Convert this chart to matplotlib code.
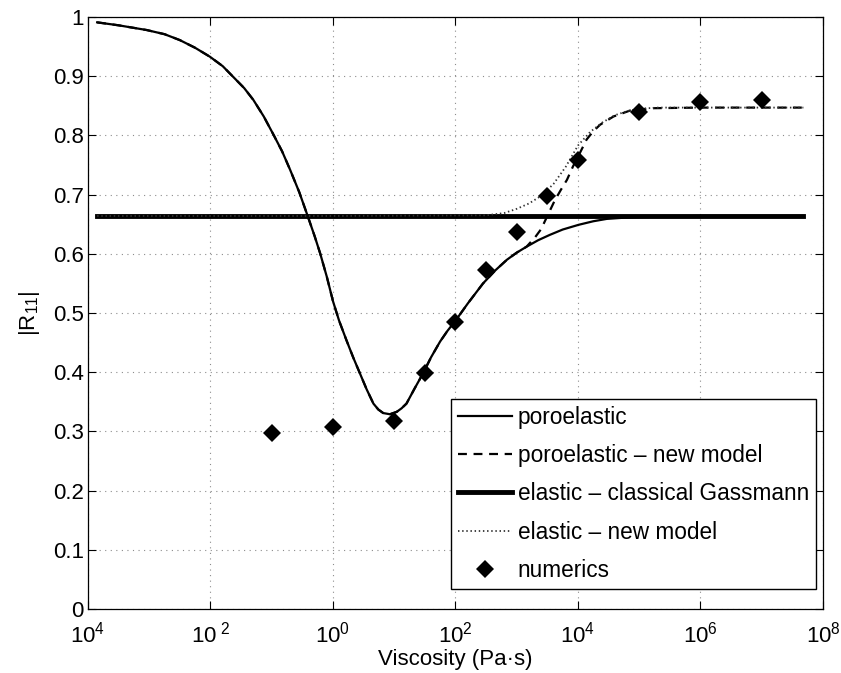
import numpy as np
import matplotlib
matplotlib.use('Agg')
import matplotlib.pyplot as plt

plt.rcParams['font.family'] = ['Liberation Sans', 'DejaVu Sans']
plt.rcParams['mathtext.fontset'] = 'custom'
plt.rcParams['mathtext.rm'] = 'Liberation Sans'
plt.rcParams['mathtext.it'] = 'Liberation Sans:italic'

# log10 of viscosity (Pa s) and |R11|
poro_exp = [-3.85, -3.5, -3.04, -2.75, -2.5, -2.25, -2.01, -1.8, -1.63, -1.45,
            -1.3, -1.13, -0.97, -0.83, -0.7, -0.55, -0.41, -0.3, -0.21, -0.1,
            0.0, 0.1, 0.22, 0.33, 0.44, 0.55, 0.66, 0.74, 0.82, 0.93,
            1.04, 1.12, 1.2, 1.33, 1.47, 1.6, 1.75, 1.87, 2.0, 2.2,
            2.45, 2.65, 2.84, 3.0, 3.16, 3.35, 3.54, 3.75, 4.01, 4.25,
            4.47, 4.75, 5.01, 5.5, 6.0, 7.68]
poro_r = [0.991, 0.986, 0.978, 0.971, 0.961, 0.948, 0.933, 0.917, 0.899, 0.880,
          0.860, 0.832, 0.801, 0.773, 0.742, 0.704, 0.663, 0.630, 0.601, 0.561,
          0.520, 0.487, 0.454, 0.425, 0.398, 0.371, 0.347, 0.337, 0.331, 0.329,
          0.333, 0.339, 0.347, 0.372, 0.398, 0.425, 0.452, 0.470, 0.487, 0.516,
          0.550, 0.572, 0.590, 0.602, 0.612, 0.623, 0.632, 0.641, 0.649, 0.655,
          0.659, 0.661, 0.662, 0.663, 0.664, 0.664]

poro_new_exp = [-3.85, -3.5, -3.04, -2.75, -2.5, -2.25, -2.01, -1.8, -1.63, -1.45,
                -1.3, -1.13, -0.97, -0.83, -0.7, -0.55, -0.41, -0.3, -0.21, -0.1,
                0.0, 0.1, 0.22, 0.33, 0.44, 0.55, 0.66, 0.74, 0.82, 0.93,
                1.04, 1.12, 1.2, 1.33, 1.47, 1.6, 1.75, 1.87, 2.0, 2.2,
                2.45, 2.65, 2.84, 3.0, 3.16, 3.3, 3.4, 3.5, 3.62, 3.72,
                3.82, 3.92, 4.01, 4.14, 4.25, 4.36, 4.58, 4.85, 5.23, 6.0, 7.68]
poro_new_r = [0.991, 0.986, 0.978, 0.971, 0.961, 0.948, 0.933, 0.917, 0.899, 0.880,
              0.860, 0.832, 0.801, 0.773, 0.742, 0.704, 0.663, 0.630, 0.601, 0.561,
              0.520, 0.487, 0.454, 0.425, 0.398, 0.371, 0.347, 0.337, 0.331, 0.329,
              0.333, 0.339, 0.347, 0.372, 0.398, 0.425, 0.452, 0.470, 0.487, 0.516,
              0.550, 0.572, 0.590, 0.602, 0.612, 0.628, 0.642, 0.664, 0.690, 0.708,
              0.725, 0.748, 0.766, 0.793, 0.807, 0.818, 0.832, 0.842, 0.846, 0.847, 0.847]

gass_exp = [-3.85, 7.68]
gass_r = [0.664, 0.664]

el_new_exp = [-3.85, 0.0, 2.5, 2.8, 3.0, 3.2, 3.4, 3.6, 3.8, 4.0,
              4.2, 4.4, 4.6, 4.8, 5.0, 5.3, 6.0, 7.68]
el_new_r = [0.664, 0.664, 0.665, 0.669, 0.676, 0.685, 0.698, 0.718, 0.747, 0.783,
            0.806, 0.822, 0.834, 0.841, 0.845, 0.847, 0.847, 0.847]

num_exp = [-1, 0, 1, 1.5, 2, 2.5, 3, 3.5, 4, 5, 6, 7]
num_r = [0.297, 0.308, 0.317, 0.398, 0.485, 0.572, 0.637, 0.698, 0.759, 0.840, 0.857, 0.859]

xtick_exp = [-4, -2, 0, 2, 4, 6, 8]
xtick_labels = ['$10^{4}$', '$10^{\\ 2}$', '$10^{0}$', '$10^{2}$', '$10^{4}$', '$10^{6}$', '$10^{8}$']
yticks = [0, 0.1, 0.2, 0.3, 0.4, 0.5, 0.6, 0.7, 0.8, 0.9, 1]
ytick_labels = ['0', '0.1', '0.2', '0.3', '0.4', '0.5', '0.6', '0.7', '0.8', '0.9', '1']

fig = plt.figure(figsize=(8.41, 6.73), dpi=100)
ax = fig.add_axes([0.1046, 0.0951, 0.8740, 0.8796])

ax.plot(10.0 ** np.array(poro_exp), poro_r, color='k', lw=1.6, label='poroelastic')
ax.plot(10.0 ** np.array(poro_new_exp), poro_new_r, color='k', lw=1.6,
        linestyle=(0, (4, 3)), label='poroelastic \u2013 new model')
ax.plot(10.0 ** np.array(gass_exp), gass_r, color='k', lw=3.5,
        label='elastic \u2013 classical Gassmann')
ax.plot(10.0 ** np.array(el_new_exp), el_new_r, color='0.2', lw=1.3,
        linestyle=(0, (0.8, 1.5)), label='elastic \u2013 new model')
ax.plot(10.0 ** np.array(num_exp), num_r, 'D', color='k', ms=9, mew=0,
        label='numerics')

ax.set_xscale('log')
ax.set_xlim(1e-4, 1e8)
ax.set_ylim(0, 1)
ax.set_xticks(10.0 ** np.array(xtick_exp))
ax.set_xticklabels(xtick_labels)
ax.minorticks_off()
ax.set_yticks(yticks)
ax.set_yticklabels(ytick_labels)
ax.tick_params(direction='in', length=6, width=0.8, top=True, right=True,
               labelsize=16)
ax.tick_params(axis='x', pad=9)
ax.tick_params(axis='y', pad=3)
ax.grid(True, color='0.55', linestyle=(0, (1, 4)), lw=0.8)
for s in ax.spines.values():
    s.set_linewidth(0.9)

ax.set_xlabel('Viscosity (Pa\u00b7s)', fontsize=16, labelpad=1)
ax.set_ylabel('|R$_{11}$|', fontsize=16, labelpad=8)

leg = ax.legend(loc='lower right', bbox_to_anchor=(0.990, 0.034), borderaxespad=0,
                fontsize=16.3, frameon=True, fancybox=False, edgecolor='k',
                framealpha=1, handlelength=2.4, handletextpad=0.25,
                borderpad=0.3, labelspacing=0.68)
leg.get_frame().set_linewidth(1.0)

fig.savefig('out.png', dpi=100)
